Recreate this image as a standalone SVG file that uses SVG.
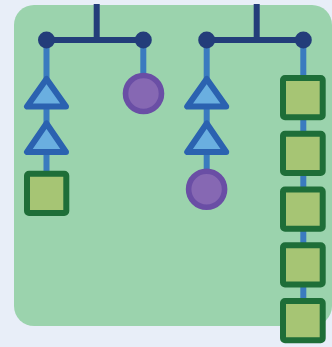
<svg xmlns="http://www.w3.org/2000/svg" width="332" height="347" viewBox="0 0 332 347">
<style>
.bus{stroke:#233d7a;stroke-width:6;fill:none}
.dot{fill:#233d7a}
.link{stroke:#3a7bbf;stroke-width:6;fill:none}
.tri{fill:#6aafe0;stroke:#2b62b0;stroke-width:6;stroke-linejoin:round}
.circ{fill:#8668b3;stroke:#6a4ea5;stroke-width:5.6}
.sq{fill:#a6c574;stroke:#1e6e38;stroke-width:6;stroke-linejoin:round}
</style>
<rect width="332" height="347" fill="#e8eef8"/>
<rect x="14" y="5" width="318" height="321" rx="20" fill="#9bd3ad"/>
<g id="connectors">
<path class="bus" d="M96.7 4V40M46.5 40H143.3"/>
<path class="bus" d="M256.7 4V40M206.7 40H303.3"/>
<path class="link" d="M46.5 40V172"/>
<path class="link" d="M143.3 40V74"/>
<path class="link" d="M206.7 40V170"/>
<path class="link" d="M303.3 40V320"/>
</g>
<g id="tree1-root-left"><circle class="dot" cx="46.5" cy="40" r="8.5"/></g>
<g id="tree1-root-right"><circle class="dot" cx="143.3" cy="40" r="8.5"/></g>
<g id="tree2-root-left"><circle class="dot" cx="206.7" cy="40" r="8.5"/></g>
<g id="tree2-root-right"><circle class="dot" cx="303.3" cy="40" r="8.5"/></g>
<g id="t1-tri1"><polygon class="tri" points="46.5,79 27,106.5 66,106.5"/></g>
<g id="t1-tri2"><polygon class="tri" points="46.5,123.5 27,152 66,152"/></g>
<g id="t1-sq"><rect class="sq" x="27" y="173.7" width="39.3" height="39.3" rx="2"/></g>
<g id="t1-circ"><circle class="circ" cx="143.5" cy="93.5" r="18"/></g>
<g id="t2-tri1"><polygon class="tri" points="206.7,79 187.2,106.5 226.2,106.5"/></g>
<g id="t2-tri2"><polygon class="tri" points="206.7,123.5 187.2,152 226.2,152"/></g>
<g id="t2-circ"><circle class="circ" cx="206.6" cy="189.2" r="18"/></g>
<g id="t2-sq1"><rect class="sq" x="283" y="78" width="39.7" height="39.3" rx="2"/></g>
<g id="t2-sq2"><rect class="sq" x="283" y="133.7" width="39.7" height="39.3" rx="2"/></g>
<g id="t2-sq3"><rect class="sq" x="283" y="189.5" width="39.7" height="39.3" rx="2"/></g>
<g id="t2-sq4"><rect class="sq" x="283" y="245.2" width="39.7" height="39.3" rx="2"/></g>
<g id="t2-sq5"><rect class="sq" x="283" y="301" width="39.7" height="39.3" rx="2"/></g>
</svg>
